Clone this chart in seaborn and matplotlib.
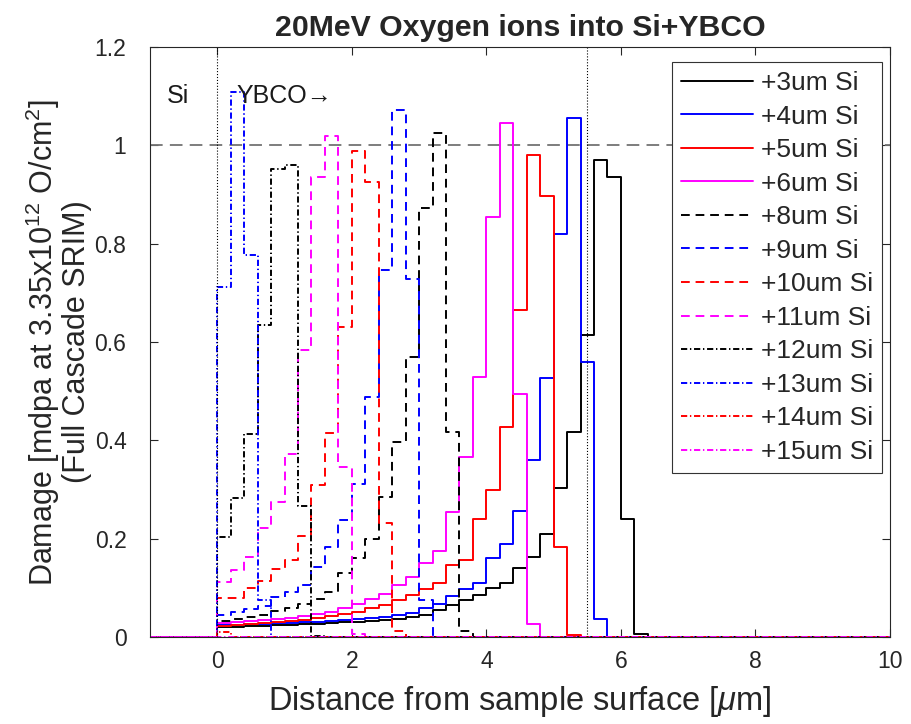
import numpy as np
import pandas as pd
import matplotlib
matplotlib.use("Agg")
import matplotlib.pyplot as plt
import seaborn as sns

# ---------------- data (damage per 0.2 um depth bin, starting at the YBCO surface x=0) -------------
bin_width = 0.2
depth_start = 0.0
x_min, x_max = -1.0, 10.0

labels = ["+3um Si", "+4um Si", "+5um Si", "+6um Si", "+8um Si", "+9um Si",
          "+10um Si", "+11um Si", "+12um Si", "+13um Si", "+14um Si", "+15um Si"]

dmg_3um = [0.020, 0.021, 0.022, 0.023, 0.024, 0.025, 0.026, 0.027, 0.028, 0.030,
           0.031, 0.033, 0.035, 0.037, 0.040,
           0.045, 0.055, 0.065, 0.075, 0.085,
           0.099, 0.109, 0.140, 0.163, 0.209,
           0.304, 0.417, 0.614, 0.970, 0.936,
           0.241, 0.006]
dmg_4um = [0.024, 0.025, 0.026, 0.027, 0.028, 0.029, 0.030, 0.031, 0.033, 0.035,
           0.037, 0.039, 0.041, 0.044, 0.048,
           0.058, 0.068, 0.083, 0.097, 0.109,
           0.160, 0.190, 0.257, 0.361, 0.526,
           0.820, 1.056, 0.560, 0.037]
dmg_5um = [0.022, 0.024, 0.026, 0.028, 0.030, 0.032, 0.035, 0.038, 0.042, 0.046,
           0.051, 0.058, 0.065, 0.075, 0.085,
           0.097, 0.109, 0.146, 0.156, 0.239,
           0.299, 0.427, 0.665, 0.980, 0.897,
           0.184, 0.004]
dmg_6um = [0.028, 0.030, 0.032, 0.034, 0.036, 0.039, 0.042, 0.046, 0.050, 0.058,
           0.068, 0.078, 0.088, 0.106, 0.123,
           0.150, 0.175, 0.255, 0.366, 0.529,
           0.854, 1.045, 0.495, 0.026]
dmg_8um = [0.033, 0.036, 0.040, 0.045, 0.052, 0.060, 0.068, 0.078, 0.092, 0.130,
           0.160, 0.200, 0.285, 0.397, 0.570,
           0.873, 1.025, 0.417, 0.012]
dmg_9um = [0.045, 0.050, 0.056, 0.064, 0.082, 0.092, 0.106, 0.142, 0.184, 0.238,
           0.311, 0.488, 0.746, 1.071, 0.729,
           0.075]
dmg_10um = [0.079, 0.079, 0.100, 0.114, 0.138, 0.157, 0.205, 0.309, 0.414, 0.631,
            0.988, 0.925, 0.231, 0.012]
dmg_11um = [0.112, 0.136, 0.163, 0.221, 0.275, 0.373, 0.583, 0.936, 1.018, 0.346,
            0.006]
dmg_12um = [0.203, 0.282, 0.413, 0.634, 0.951, 0.961, 0.266, 0.003]
dmg_13um = [0.712, 1.108, 0.776, 0.075]
dmg_14um = [0.011]
dmg_15um = [0.0]

series = [dmg_3um, dmg_4um, dmg_5um, dmg_6um, dmg_8um, dmg_9um,
          dmg_10um, dmg_11um, dmg_12um, dmg_13um, dmg_14um, dmg_15um]

x_ticks = [0, 2, 4, 6, 8, 10]
y_ticks = [0, 0.2, 0.4, 0.6, 0.8, 1.0, 1.2]
y_tick_labels = ["0", "0.2", "0.4", "0.6", "0.8", "1", "1.2"]

# ---------------- styles ----------------
colors = ["#000000", "#0000ff", "#ff0000", "#ff00ff"] * 3
dash = (0, (4.5, 3.0))
dashdot = (0, (3.2, 1.4, 0.7, 1.4))
styles = ["-"] * 4 + [dash] * 4 + [dashdot] * 4
lw = 1.4

sns.set_style("ticks")
plt.rcParams["font.family"] = ["Liberation Sans", "DejaVu Sans"]
plt.rcParams["mathtext.fontset"] = "custom"
plt.rcParams["mathtext.rm"] = "Liberation Sans"
plt.rcParams["mathtext.it"] = "Liberation Sans:italic"
plt.rcParams["mathtext.bf"] = "Liberation Sans:bold"

fig = plt.figure(figsize=(9.12, 7.24), dpi=100)
ax = fig.add_axes([150 / 912, 1 - 637 / 724, 740 / 912, 590 / 724])

edges = np.round(np.arange(x_min, x_max + bin_width / 2, bin_width), 6)
offset = int(round((depth_start - x_min) / bin_width))

for vals, lab, c, ls in zip(series, labels, colors, styles):
    full = np.zeros(len(edges) - 1)
    full[offset:offset + len(vals)] = vals
    y = np.append(full, full[-1])
    df = pd.DataFrame({"x": edges, "y": y})
    sns.lineplot(data=df, x="x", y="y", ax=ax, color=c, linestyle=ls,
                 linewidth=lw, drawstyle="steps-post", label=lab,
                 estimator=None, sort=False)

# reference lines
ax.axhline(1.0, color="0.45", linestyle=(0, (7, 4)), linewidth=1.3, zorder=1)
ax.axvline(0.0, color="k", linestyle=":", linewidth=0.8)
ax.axvline(5.5, color="k", linestyle=":", linewidth=0.8)

ax.text(-0.75, 1.1, "Si", fontsize=18, va="center", ha="left", color="0.1")
ax.text(0.29, 1.1, "YBCO\u2192", fontsize=18, va="center", ha="left", color="0.1")

ax.set_xlim(x_min, x_max)
ax.set_ylim(0, 1.2)
ax.set_xticks(x_ticks)
ax.set_yticks(y_ticks)
ax.set_yticklabels(y_tick_labels)
ax.tick_params(axis="both", direction="in", top=True, right=True, length=6,
               width=0.8, labelsize=16.5, colors="0.15")
ax.tick_params(axis="y", pad=17)
ax.tick_params(axis="x", pad=9)
for s in ax.spines.values():
    s.set_color("0.15")
    s.set_linewidth(0.8)

ax.set_xlabel("Distance from sample surface [$\\mu$m]", fontsize=23.5, color="0.15", labelpad=8)
ax.set_ylabel("Damage [mdpa at 3.35x10$^{12}$ O/cm$^{2}$]\n(Full Cascade SRIM)",
              fontsize=22, color="0.15", labelpad=2, linespacing=1.0)
ax.set_title("20MeV Oxygen ions into Si+YBCO", fontsize=21.8, fontweight="bold", pad=8)

handles, leg_labels = ax.get_legend_handles_labels()
leg = ax.legend(handles, leg_labels, loc="upper right",
                bbox_to_anchor=(1 - 8 / 740, 1 - 15 / 590), borderaxespad=0,
                fontsize=19, handlelength=2.7, labelspacing=0.36, borderpad=0.35,
                handletextpad=0.3, frameon=True, fancybox=False,
                edgecolor="0.2", framealpha=1)
leg.get_frame().set_linewidth(0.8)

fig.savefig("out.png", dpi=100)
